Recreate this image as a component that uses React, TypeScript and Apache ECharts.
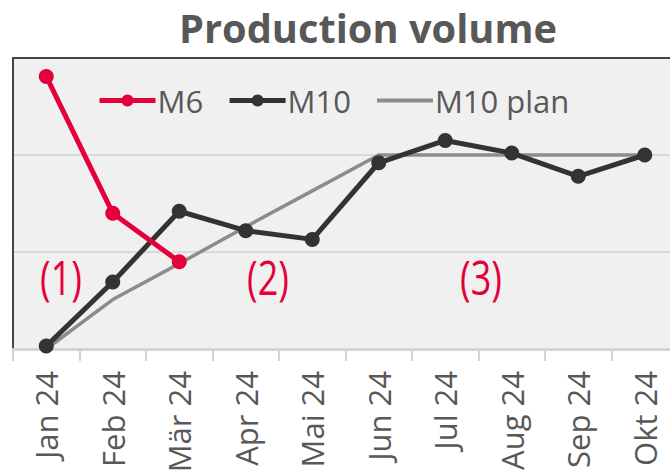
import React, { useEffect, useRef } from "react";
import * as echarts from "echarts";

const categories = ["Jan 24", "Feb 24", "Mär 24", "Apr 24", "Mai 24", "Jun 24", "Jul 24", "Aug 24", "Sep 24", "Okt 24"];
const m6 = [2.81, 1.4, 0.9, null, null, null, null, null, null, null];
const m10 = [0.03, 0.69, 1.42, 1.22, 1.13, 1.92, 2.15, 2.02, 1.78, 2.0];
const m10Plan = [0, 0.51, 0.88, 1.26, 1.63, 2.0, 2.0, 2.0, 2.0, 2.0];
const notes = ["(1)", "(2)", "(3)"];
const titleText = "Production volume";

const FONT = "'Open Sans', 'Noto Sans', sans-serif";
const RED = "#e4003a";
const DARK = "#333333";
const PLAN = "#8c8c8c";
const TXT = "#585858";

export default function App() {
  const ref = useRef<HTMLDivElement>(null);
  useEffect(() => {
    const chart = echarts.init(ref.current!, null, { renderer: "svg" });
    const noteStyle = { fill: RED, fontFamily: FONT, fontSize: 48, textAlign: "center", textVerticalAlign: "middle" };
    chart.setOption({
      animation: false,
      backgroundColor: "#ffffff",
      legend: {
        top: 80,
        left: 92,
        itemWidth: 56,
        itemHeight: 15,
        itemGap: 24,
        lineStyle: { width: 5 },
        textStyle: { fontFamily: FONT, fontSize: 31, color: TXT, padding: [0, 0, 0, -3] },
        data: [
          "M6",
          "M10",
          { name: "M10 plan", itemStyle: { opacity: 0 }, lineStyle: { width: 4 } },
        ],
      },
      grid: {
        left: 13,
        top: 58,
        width: 665,
        height: 291,
        outerBoundsMode: "none",
        containLabel: false,
        show: true,
        backgroundColor: "#f0f0f0",
        borderWidth: 0,
      },
      xAxis: [
        {
          type: "category",
          data: categories,
          boundaryGap: true,
          axisLine: { lineStyle: { color: "#d4d4d4", width: 3 } },
          axisTick: { show: true, length: 12, lineStyle: { color: "#d4d4d4", width: 2 } },
          axisLabel: {
            rotate: 90,
            margin: 22,
            fontFamily: FONT,
            fontSize: 31,
            color: TXT,
            interval: 0,
          },
        },
        {
          type: "category",
          data: categories,
          position: "top",
          axisLine: { show: true, lineStyle: { color: "#444", width: 2 } },
          axisTick: { show: false },
          axisLabel: { show: false },
        },
      ],
      yAxis: {
        type: "value",
        min: 0,
        max: 3,
        interval: 1,
        axisLabel: { show: false },
        axisTick: { show: false },
        axisLine: { show: true, lineStyle: { color: "#444", width: 2 } },
        splitLine: { lineStyle: { color: "#d9d9d9", width: 2 } },
      },
      graphic: [
        {
          type: "text",
          x: 368,
          y: 28,
          scaleX: 1.02,
          style: {
            text: titleText,
            fill: TXT,
            fontFamily: FONT,
            fontSize: 39,
            fontWeight: "bold",
            textAlign: "center",
            textVerticalAlign: "middle",
          },
        },
        { type: "text", x: 61, y: 276, scaleX: 0.75, style: { ...noteStyle, text: notes[0] } },
        { type: "text", x: 268, y: 276, scaleX: 0.75, style: { ...noteStyle, text: notes[1] } },
        { type: "text", x: 481, y: 276, scaleX: 0.75, style: { ...noteStyle, text: notes[2] } },
      ],
      series: [
        {
          name: "M10 plan",
          type: "line",
          data: m10Plan,
          symbol: "none",
          lineStyle: { color: PLAN, width: 3.5 },
          itemStyle: { color: PLAN },
          z: 2,
        },
        {
          name: "M10",
          type: "line",
          data: m10,
          symbol: "circle",
          symbolSize: 15,
          lineStyle: { color: DARK, width: 5 },
          itemStyle: { color: DARK },
          z: 3,
        },
        {
          name: "M6",
          type: "line",
          data: m6,
          symbol: "circle",
          symbolSize: 15,
          lineStyle: { color: RED, width: 5 },
          itemStyle: { color: RED },
          z: 4,
        },
      ],
    });
    return () => chart.dispose();
  }, []);
  return (
    <div style={{ position: "absolute", left: 0, top: 0, width: 670, height: 475 }}>
      <div ref={ref} style={{ width: 670, height: 475 }} />
    </div>
  );
}
